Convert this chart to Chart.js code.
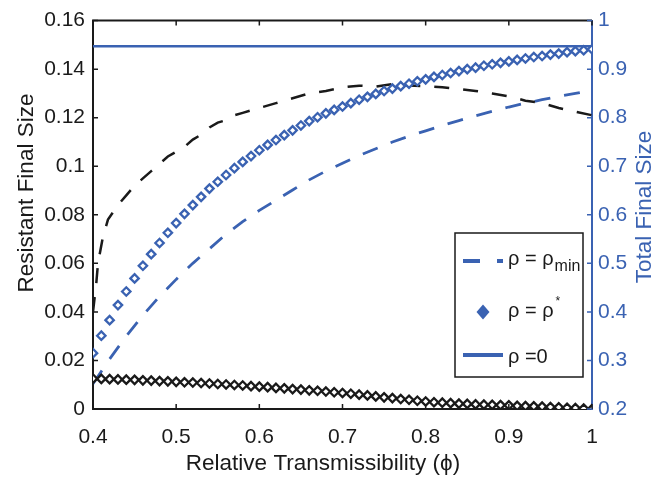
<!DOCTYPE html>
<html>
<head>
<meta charset="utf-8">
<script src="https://cdn.jsdelivr.net/npm/chart.js@4.4.1/dist/chart.umd.min.js"></script>
<style>
  body { margin: 0; background: #fff; }
</style>
</head>
<body>
<canvas id="grafico" width="661" height="478"></canvas>
<script>
// relative transmissibility (phi), one marker every 0.01
const phi = [0.40,0.41,0.42,0.43,0.44,0.45,0.46,0.47,0.48,0.49,
  0.50,0.51,0.52,0.53,0.54,0.55,0.56,0.57,0.58,0.59,
  0.60,0.61,0.62,0.63,0.64,0.65,0.66,0.67,0.68,0.69,
  0.70,0.71,0.72,0.73,0.74,0.75,0.76,0.77,0.78,0.79,
  0.80,0.81,0.82,0.83,0.84,0.85,0.86,0.87,0.88,0.89,
  0.90,0.91,0.92,0.93,0.94,0.95,0.96,0.97,0.98,0.99,1.00];

// total final size, rho = rho* (right axis, blue diamonds)
const totalStar = [0.315,0.351,0.383,0.414,0.442,0.469,0.495,0.519,0.542,0.563,
  0.583,0.602,0.620,0.637,0.654,0.668,0.682,0.696,0.709,0.721,
  0.733,0.744,0.754,0.764,0.774,0.784,0.793,0.801,0.809,0.816,
  0.823,0.830,0.837,0.843,0.849,0.855,0.860,0.865,0.870,0.875,
  0.879,0.884,0.888,0.892,0.896,0.900,0.903,0.907,0.910,0.913,
  0.916,0.919,0.922,0.925,0.927,0.930,0.932,0.935,0.937,0.939,0.941];

// resistant final size, rho = rho* (left axis, black diamonds)
const resistStar = [0.0125,0.0124,0.0123,0.0122,0.0121,0.0120,0.0118,0.0117,0.0115,0.0114,
  0.0112,0.0110,0.0109,0.0107,0.0105,0.0103,0.0101,0.0099,0.0097,0.0094,
  0.0092,0.0090,0.0087,0.0085,0.0082,0.0080,0.0077,0.0075,0.0072,0.0069,
  0.0066,0.0063,0.0059,0.0056,0.0052,0.0048,0.0045,0.0041,0.0038,0.0034,
  0.0031,0.0028,0.0026,0.0024,0.0022,0.0021,0.0019,0.0018,0.0017,0.0016,
  0.0015,0.0013,0.0012,0.0011,0.0010,0.0008,0.0007,0.0005,0.0004,0.0002,0.0000];

// resistant final size, rho = rho_min (left axis, black dashed)
const phiResMin = [0.400,0.404,0.406,0.412,0.418,0.43,0.44,0.45,0.46,0.47,0.48,0.49,0.50,0.51,
  0.52,0.53,0.54,0.55,0.56,0.57,0.58,0.60,0.62,0.64,0.66,0.68,0.70,0.72,0.74,0.76,
  0.78,0.80,0.82,0.84,0.86,0.88,0.90,0.92,0.94,0.96,0.98,1.00];
const resistMin = [0.040,0.052,0.060,0.071,0.078,0.084,0.088,0.092,0.095,0.098,0.101,0.104,0.106,0.108,
  0.111,0.113,0.116,0.118,0.119,0.121,0.122,0.124,0.126,0.128,0.130,0.131,0.1325,0.1332,0.1328,0.1338,
  0.1333,0.1330,0.1325,0.1318,0.1310,0.1300,0.1288,0.1270,0.1260,0.1240,0.1225,0.1210];

// total final size, rho = rho_min (right axis, blue dashed)
const phiTotMin = [0.40,0.42,0.44,0.46,0.48,0.50,0.52,0.54,0.56,0.58,0.60,0.62,0.64,0.66,0.68,
  0.70,0.72,0.74,0.76,0.78,0.80,0.82,0.84,0.86,0.88,0.90,0.92,0.94,0.96,0.98,1.00];
const totalMin = [0.252,0.303,0.350,0.393,0.432,0.467,0.500,0.530,0.560,0.586,0.609,0.630,0.651,0.672,0.690,
  0.706,0.722,0.736,0.750,0.762,0.773,0.784,0.794,0.804,0.813,0.822,0.830,0.837,0.844,0.850,0.856];

// total final size, rho = 0 (right axis, blue solid)
const phiZero = [0.4, 1.0];
const totalZero = [0.947, 0.947];

const xTicks = [0.4,0.5,0.6,0.7,0.8,0.9,1];
const xLabels = ['0.4','0.5','0.6','0.7','0.8','0.9','1'];
const leftTicks = [0,0.02,0.04,0.06,0.08,0.1,0.12,0.14,0.16];
const leftLabels = ['0','0.02','0.04','0.06','0.08','0.1','0.12','0.14','0.16'];
const rightTicks = [0.2,0.3,0.4,0.5,0.6,0.7,0.8,0.9,1];
const rightLabels = ['0.2','0.3','0.4','0.5','0.6','0.7','0.8','0.9','1'];

const BLUE = '#3a62b2';
const INK = '#1a1a1a';
const FONT = "'Liberation Sans', Arial, sans-serif";

const pts = (xs, ys) => xs.map((x, i) => ({x: x, y: ys[i]}));

// MATLAB style: box on top, inward ticks, own legend, titles
const decor = {
  id: 'decor',
  afterDraw(chart) {
    const ctx = chart.ctx, a = chart.chartArea, s = chart.scales;
    ctx.save();
    ctx.strokeStyle = INK;
    ctx.lineWidth = 2;
    ctx.beginPath(); ctx.moveTo(a.left - 1, a.top); ctx.lineTo(a.right, a.top); ctx.stroke();
    ctx.lineWidth = 1.5;
    ctx.beginPath();
    xTicks.forEach(v => {
      const px = s.x.getPixelForValue(v);
      ctx.moveTo(px, a.bottom); ctx.lineTo(px, a.bottom - 5);
      ctx.moveTo(px, a.top); ctx.lineTo(px, a.top + 5);
    });
    leftTicks.forEach(v => {
      const py = s.y.getPixelForValue(v);
      ctx.moveTo(a.left, py); ctx.lineTo(a.left + 5, py);
    });
    ctx.stroke();
    ctx.strokeStyle = BLUE;
    ctx.beginPath();
    rightTicks.forEach(v => {
      const py = s.y1.getPixelForValue(v);
      ctx.moveTo(a.right, py); ctx.lineTo(a.right - 5, py);
    });
    ctx.stroke();

    // axis titles
    ctx.font = '22.5px ' + FONT;
    ctx.textAlign = 'center';
    ctx.textBaseline = 'alphabetic';
    ctx.fillStyle = INK;
    ctx.fillText('Relative Transmissibility (\u03d5)', 323, 470);
    ctx.save();
    ctx.translate(33, 193); ctx.rotate(-Math.PI / 2);
    ctx.fillText('Resistant Final Size', 0, 0);
    ctx.restore();
    ctx.save();
    ctx.fillStyle = BLUE;
    ctx.translate(651, 207); ctx.rotate(-Math.PI / 2);
    ctx.fillText('Total Final Size', 0, 0);
    ctx.restore();

    // legend
    const lx = 455, ly = 233, lw = 128, lh = 144;
    ctx.fillStyle = '#fff';
    ctx.fillRect(lx, ly, lw, lh);
    ctx.strokeStyle = INK; ctx.lineWidth = 1.5;
    ctx.strokeRect(lx, ly, lw, lh);

    ctx.strokeStyle = BLUE; ctx.lineWidth = 4;
    ctx.setLineDash([17, 17]);
    ctx.beginPath(); ctx.moveTo(463, 261); ctx.lineTo(503, 261); ctx.stroke();
    ctx.setLineDash([]);
    ctx.beginPath(); ctx.moveTo(463, 355); ctx.lineTo(503, 355); ctx.stroke();
    ctx.fillStyle = BLUE;
    ctx.beginPath();
    ctx.moveTo(483, 304.5); ctx.lineTo(489.5, 312); ctx.lineTo(483, 319.5); ctx.lineTo(476.5, 312);
    ctx.closePath(); ctx.fill();

    ctx.fillStyle = INK;
    ctx.textAlign = 'left';
    ctx.font = '20px ' + FONT;
    const w1 = ctx.measureText('\u03c1 = \u03c1').width;
    ctx.fillText('\u03c1 = \u03c1', 508, 265);
    ctx.fillText('\u03c1 = \u03c1', 508, 317);
    ctx.fillText('\u03c1 =0', 508, 363);
    ctx.font = '16px ' + FONT;
    ctx.fillText('min', 508 + w1 + 1, 271);
    ctx.font = '12px ' + FONT;
    ctx.fillText('*', 508 + w1 + 2, 305);
    ctx.restore();
  }
};

const setTicks = (vals) => (scale) => { scale.ticks = vals.map(v => ({value: v})); };

const graph = new Chart(document.getElementById('grafico').getContext('2d'), {
  type: 'scatter',
  data: {
    datasets: [{
      label: 'resist rho*',
      data: pts(phi, resistStar),
      yAxisID: 'y',
      showLine: false,
      pointStyle: 'rectRot',
      pointRadius: 4.2,
      pointBorderWidth: 2.3,
      borderColor: INK,
      backgroundColor: '#fff'
    }, {
      label: 'total rho*',
      data: pts(phi, totalStar),
      yAxisID: 'y1',
      showLine: false,
      pointStyle: 'rectRot',
      pointRadius: 4.2,
      pointBorderWidth: 2.3,
      borderColor: BLUE,
      backgroundColor: '#fff'
    }, {
      label: 'resist rho_min',
      data: pts(phiResMin, resistMin),
      yAxisID: 'y',
      showLine: true,
      pointRadius: 0,
      borderColor: INK,
      borderWidth: 2.5,
      borderDash: [15, 14]
    }, {
      label: 'total rho_min',
      data: pts(phiTotMin, totalMin),
      yAxisID: 'y1',
      showLine: true,
      pointRadius: 0,
      borderColor: BLUE,
      borderWidth: 2.8,
      borderDash: [16, 14]
    }, {
      label: 'total rho=0',
      data: pts(phiZero, totalZero),
      yAxisID: 'y1',
      showLine: true,
      pointRadius: 0,
      borderColor: BLUE,
      borderWidth: 2.5
    }]
  },
  options: {
    responsive: false,
    animation: false,
    events: [],
    layout: { padding: { top: 16, left: 0, right: 0, bottom: 0 } },
    plugins: { legend: { display: false }, tooltip: { enabled: false } },
    scales: {
      x: {
        type: 'linear', min: 0.4, max: 1,
        afterBuildTicks: setTicks(xTicks),
        afterFit: (sc) => { sc.height = 69; },
        grid: { display: false, drawTicks: false },
        border: { display: true, color: INK, width: 2 },
        ticks: { padding: 16, color: INK, font: { family: FONT, size: 21 },
          callback: (v, i) => xLabels[i] }
      },
      y: {
        position: 'left', min: 0, max: 0.16,
        afterBuildTicks: setTicks(leftTicks),
        afterFit: (sc) => { sc.width = 93; },
        grid: { display: false, drawTicks: false },
        border: { display: true, color: INK, width: 2 },
        ticks: { padding: 8, color: INK, font: { family: FONT, size: 21 },
          callback: (v, i) => leftLabels[i] }
      },
      y1: {
        position: 'right', min: 0.2, max: 1,
        afterBuildTicks: setTicks(rightTicks),
        afterFit: (sc) => { sc.width = 69; },
        grid: { display: false, drawTicks: false },
        border: { display: true, color: BLUE, width: 2 },
        ticks: { padding: 6, color: BLUE, font: { family: FONT, size: 21 },
          callback: (v, i) => rightLabels[i] }
      }
    }
  },
  plugins: [decor]
});
</script>
</body>
</html>
